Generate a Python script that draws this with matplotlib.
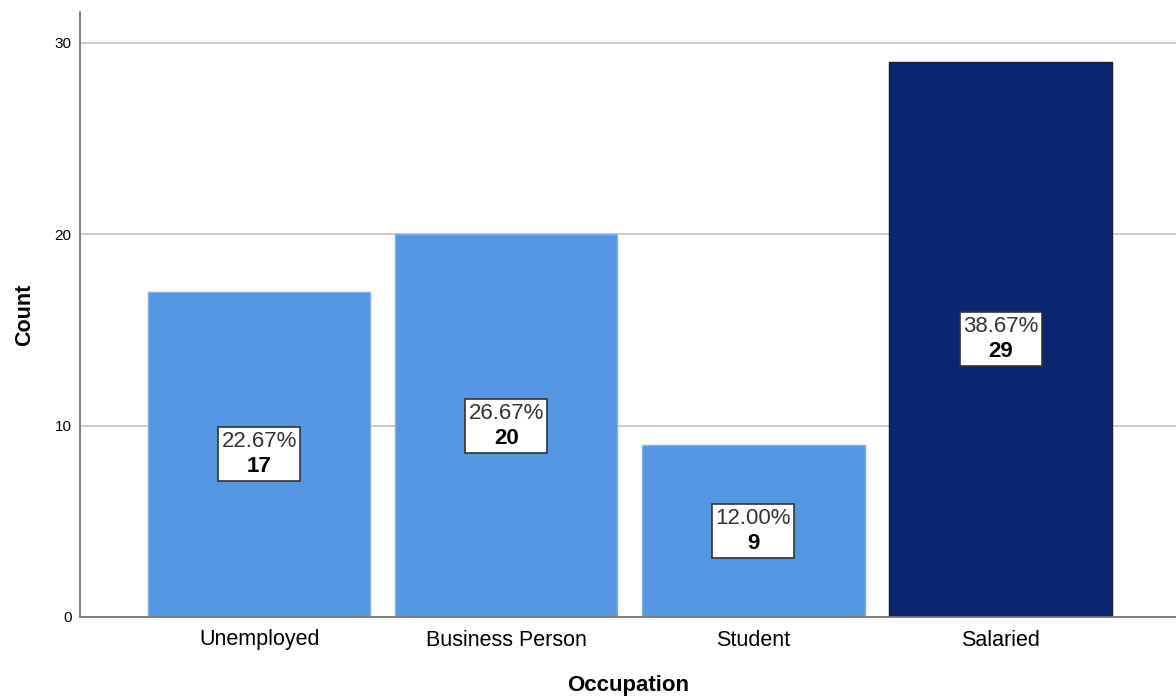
import matplotlib.pyplot as plt
from matplotlib.patches import Rectangle
from matplotlib.transforms import IdentityTransform, ScaledTranslation

plt.rcParams['font.family'] = ['Liberation Sans', 'DejaVu Sans']

occupations = ["Unemployed", "Business Person", "Student", "Salaried"]
counts = [17, 20, 9, 29]
percents = ["22.67%", "26.67%", "12.00%", "38.67%"]
bar_colors = ["#5596E3", "#5596E3", "#5596E3", "#0B2570"]
edge_colors = ["#7FB0EA", "#7FB0EA", "#7FB0EA", "#1A1A2E"]

fig = plt.figure(figsize=(11.76, 6.98), dpi=100)
ax = fig.add_axes([80 / 1176, 81 / 698, 1 - 80 / 1176, 605 / 698])

x = list(range(len(occupations)))
ax.bar(x, counts, width=0.9, color=bar_colors, edgecolor=edge_colors, linewidth=1, zorder=2)

# label boxes: fixed size in pixels, centred at half bar height
for xi, c, p in zip(x, counts, percents):
    trans = IdentityTransform() + ScaledTranslation(xi, c / 2, ax.transData)
    ax.add_patch(Rectangle((-41, -27), 82, 54, transform=trans, fc="white",
                           ec="#333333", lw=1.2, zorder=3, clip_on=False))
    ax.annotate(p, (xi, c / 2), xytext=(0, 9), textcoords="offset points",
                ha="center", va="center", fontsize=16, color="#333333", zorder=4)
    ax.annotate(str(c), (xi, c / 2), xytext=(0, -9), textcoords="offset points",
                ha="center", va="center", fontsize=16, fontweight="bold",
                color="black", zorder=5)

ax.set_xlim(-0.725, 3.71)
ax.set_ylim(0, 31.6)
ax.set_yticks([0, 10, 20, 30])
ax.yaxis.grid(True, color="#C8C8C8", lw=1.3, zorder=0)
ax.set_axisbelow(True)
ax.tick_params(axis="y", length=0, labelsize=11, pad=6)
ax.tick_params(axis="x", length=0, labelsize=15.5, pad=9)
ax.set_xticks(x)
ax.set_xticklabels(occupations)

for s in ["top", "right"]:
    ax.spines[s].set_visible(False)
for s in ["left", "bottom"]:
    ax.spines[s].set_color("#777777")
    ax.spines[s].set_linewidth(1.3)

ax.set_xlabel("Occupation", fontsize=16, fontweight="bold", labelpad=18)
ax.set_ylabel("Count", fontsize=15.5, fontweight="bold", labelpad=14)

fig.savefig("out.png", dpi=100)
